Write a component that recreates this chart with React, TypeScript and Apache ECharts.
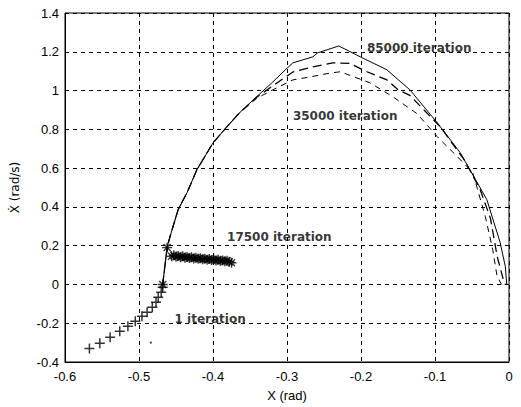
import React, { useEffect, useRef } from "react";
import * as echarts from "echarts";

// 85000 iteration (solid)
const solidX = [-0.468, -0.462, -0.458, -0.447, -0.435, -0.422, -0.40, -0.381, -0.364, -0.341, -0.319, -0.30, -0.292, -0.265, -0.259, -0.23, -0.201, -0.165, -0.134, -0.097, -0.066, -0.03, -0.012, -0.005, -0.003];
const solidY = [0.0, 0.19, 0.248, 0.387, 0.474, 0.59, 0.73, 0.814, 0.886, 0.968, 1.045, 1.115, 1.143, 1.174, 1.194, 1.23, 1.174, 1.107, 1.004, 0.834, 0.68, 0.438, 0.217, 0.093, 0.0];

// intermediate (long dash)
const dashX = [-0.468, -0.462, -0.458, -0.447, -0.435, -0.422, -0.40, -0.381, -0.364, -0.341, -0.319, -0.292, -0.265, -0.238, -0.215, -0.192, -0.165, -0.15, -0.134, -0.093, -0.06, -0.039, -0.025, -0.016, -0.008, -0.005];
const dashY = [0.0, 0.19, 0.248, 0.387, 0.474, 0.59, 0.73, 0.814, 0.886, 0.965, 1.025, 1.096, 1.122, 1.143, 1.14, 1.097, 1.055, 1.004, 0.975, 0.814, 0.64, 0.49, 0.34, 0.145, 0.03, 0.0];

// 35000 iteration (dash-dot)
const dotX = [-0.468, -0.462, -0.458, -0.447, -0.435, -0.422, -0.40, -0.381, -0.364, -0.341, -0.319, -0.292, -0.269, -0.242, -0.228, -0.188, -0.157, -0.124, -0.097, -0.07, -0.049, -0.032, -0.022, -0.016, -0.01];
const dotY = [0.0, 0.19, 0.248, 0.387, 0.474, 0.59, 0.73, 0.814, 0.886, 0.96, 1.004, 1.055, 1.07, 1.09, 1.097, 1.04, 0.968, 0.88, 0.762, 0.66, 0.577, 0.35, 0.18, 0.04, 0.0];

// 17500 iteration (asterisks)
const starX = [-0.468, -0.462, -0.456, -0.453, -0.450, -0.447, -0.444, -0.441, -0.438, -0.435, -0.432, -0.429, -0.426, -0.423, -0.420, -0.417, -0.414, -0.411, -0.408, -0.405, -0.402, -0.399, -0.396, -0.393, -0.390, -0.387, -0.384, -0.381, -0.378, -0.375];
const starY = [0.0, 0.19, 0.145, 0.15, 0.143, 0.147, 0.14, 0.145, 0.138, 0.142, 0.136, 0.14, 0.134, 0.138, 0.132, 0.135, 0.13, 0.133, 0.128, 0.131, 0.126, 0.129, 0.124, 0.127, 0.122, 0.124, 0.12, 0.122, 0.117, 0.112];

// 1 iteration (pluses)
const plusX = [-0.567, -0.553, -0.539, -0.526, -0.515, -0.505, -0.496, -0.489, -0.482, -0.477, -0.474, -0.470, -0.468];
const plusY = [-0.33, -0.303, -0.272, -0.241, -0.215, -0.19, -0.164, -0.143, -0.118, -0.092, -0.066, -0.04, -0.015];

const strayX = [-0.484];
const strayY = [-0.30];

// annotations
const noteText = ["85000 iteration", "35000 iteration", "17500 iteration", "1 iteration"];
const noteX = [-0.192, -0.292, -0.381, -0.452];
const noteY = [1.22, 0.867, 0.243, -0.179];

const xTicks = { min: -0.6, max: 0, interval: 0.1 };
const yTicks = { min: -0.4, max: 1.4, interval: 0.2 };

const zip = (xs: number[], ys: number[]) => xs.map((x, i) => [x, ys[i]]);

const PLUS = "path://M0,5L10,5M5,0L5,10";
const STAR = "path://M0,5L10,5M5,0L5,10M1.5,1.5L8.5,8.5M8.5,1.5L1.5,8.5";

export default function App() {
  const ref = useRef<HTMLDivElement>(null);
  useEffect(() => {
    if (!ref.current) return;
    const chart = echarts.init(ref.current, undefined, { renderer: "svg" });
    const axisLabel = { color: "#000", fontFamily: "Liberation Sans", fontSize: 13 };
    const split = { show: true, lineStyle: { color: "#000", type: [4, 4] as any, width: 1 } };
    chart.setOption({
      animation: false,
      backgroundColor: "#fff",
      grid: { left: 65, right: 12, top: 13, bottom: 44, show: true, borderColor: "#000", borderWidth: 1 },
      xAxis: {
        type: "value",
        ...xTicks,
        name: "X (rad)",
        nameLocation: "middle",
        nameGap: 27,
        nameTextStyle: { color: "#000", fontFamily: "Liberation Sans", fontSize: 13 },
        axisLine: { show: true, onZero: false, lineStyle: { color: "#000" } },
        axisTick: { show: false },
        axisLabel: { ...axisLabel, margin: 8, formatter: (v: number) => String(Math.round(v * 10) / 10) },
        splitLine: split,
      },
      yAxis: {
        type: "value",
        ...yTicks,
        name: "\u1E8A (rad/s)",
        nameLocation: "middle",
        nameGap: 44,
        nameTextStyle: { color: "#000", fontFamily: "DejaVu Sans", fontSize: 12 },
        axisLine: { show: true, onZero: false, lineStyle: { color: "#000" } },
        axisTick: { show: false },
        axisLabel: { ...axisLabel, margin: 6, formatter: (v: number) => String(Math.round(v * 10) / 10) },
        splitLine: split,
      },
      series: [
        {
          type: "line",
          data: zip(dotX, dotY),
          showSymbol: false,
          lineStyle: { color: "#000", width: 1, type: [6, 5] },
        },
        {
          type: "line",
          data: zip(dashX, dashY),
          showSymbol: false,
          lineStyle: { color: "#000", width: 1.3, type: [9, 5] },
        },
        {
          type: "line",
          data: zip(solidX, solidY),
          showSymbol: false,
          lineStyle: { color: "#000", width: 1 },
        },
        {
          type: "scatter",
          data: zip(starX, starY),
          symbol: STAR,
          symbolSize: 10,
          itemStyle: { color: "transparent", borderColor: "#000", borderWidth: 1.4 },
        },
        {
          type: "scatter",
          data: zip(plusX, plusY),
          symbol: PLUS,
          symbolSize: 10,
          itemStyle: { color: "transparent", borderColor: "#000", borderWidth: 1.5 },
        },
        {
          type: "scatter",
          data: zip(strayX, strayY),
          symbol: "circle",
          symbolSize: 2,
          itemStyle: { color: "#000" },
        },
        {
          type: "scatter",
          data: noteText.map((t, i) => ({ name: t, value: [noteX[i], noteY[i]] })),
          symbolSize: 0,
          silent: true,
          label: {
            show: true,
            position: "right",
            distance: 0,
            formatter: "{b}",
            color: "#000",
            fontFamily: "DejaVu Sans",
            fontWeight: "bold",
            fontSize: 12,
          },
        },
      ],
    });
    return () => chart.dispose();
  }, []);
  return <div ref={ref} style={{ position: "fixed", left: 0, top: 0, width: 521, height: 407 }} />;
}
